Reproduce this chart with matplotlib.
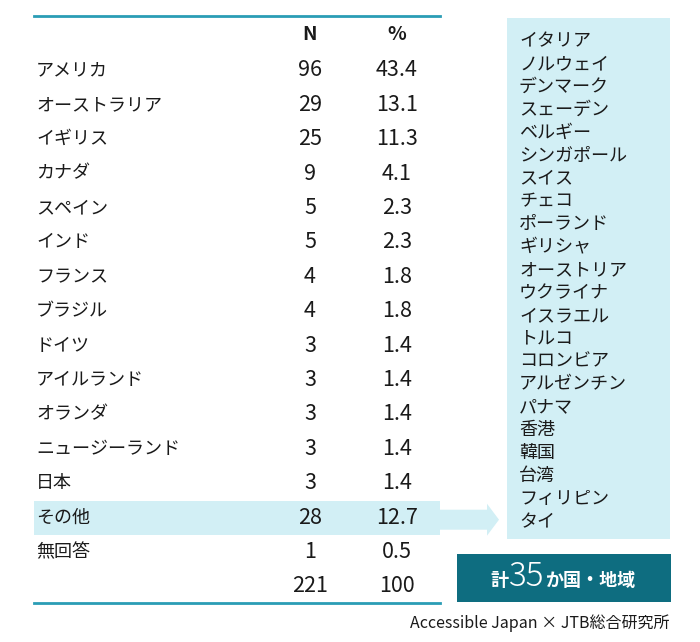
"""
Table: visitor countries (N, %) with the list of other countries on the right.
"""
import matplotlib
matplotlib.use("Agg")
import matplotlib.pyplot as plt
from matplotlib.patches import Rectangle, Polygon

plt.rcParams["font.family"] = ["Noto Sans CJK JP", "DejaVu Sans"]

countries = ["アメリカ", "オーストラリア", "イギリス", "カナダ", "スペイン", "インド",
             "フランス", "ブラジル", "ドイツ", "アイルランド", "オランダ",
             "ニュージーランド", "日本", "その他", "無回答", ""]
counts = ["96", "29", "25", "9", "5", "5", "4", "4", "3", "3", "3", "3", "3",
          "28", "1", "221"]
percents = ["43.4", "13.1", "11.3", "4.1", "2.3", "2.3", "1.8", "1.8", "1.4",
            "1.4", "1.4", "1.4", "1.4", "12.7", "0.5", "100"]
others = ["イタリア", "ノルウェイ", "デンマーク", "スェーデン", "ベルギー",
          "シンガポール", "スイス", "チェコ", "ポーランド", "ギリシャ",
          "オーストリア", "ウクライナ", "イスラエル", "トルコ", "コロンビア",
          "アルゼンチン", "パナマ", "香港", "韓国", "台湾", "フィリピン", "タイ"]
headers = ["N", "%"]
total_label = ["計", "35", "か国・地域"]
credit = "Accessible Japan × JTB総合研究所"

TEAL_LINE = "#2a9db5"
LIGHT = "#d2eff5"
DARK = "#0e6d80"
TXT = "#1a1a1a"


def main():
    fig = plt.figure(figsize=(7.0, 6.42), dpi=100)
    ax = fig.add_axes([0, 0, 1, 1])
    ax.set_xlim(0, 700)
    ax.set_ylim(642, 0)
    ax.axis("off")

    # table lines
    ax.plot([34, 440], [15.5, 15.5], color=TEAL_LINE, lw=2)
    ax.plot([34, 440], [603, 603], color=TEAL_LINE, lw=2)

    # header
    for hx, h in zip([310, 397], headers):
        ax.text(hx, 35, h, ha="center", va="center", fontsize=14,
                fontweight="bold", color=TXT)

    # highlighted row + arrow
    row_y0, row_h = 70.5, 34.4
    hi = countries.index("その他")
    yc = row_y0 + hi * row_h
    ax.add_patch(Rectangle((34, yc - 17), 406, 34, color=LIGHT, lw=0))
    ax.add_patch(Polygon([(440, yc - 8), (487, yc - 8), (487, yc - 14),
                          (499, yc + 2), (487, yc + 18), (487, yc + 12),
                          (440, yc + 12)], closed=True, color=LIGHT, lw=0))

    for i, (c, n, p) in enumerate(zip(countries, counts, percents)):
        y = row_y0 + i * row_h
        ax.text(36, y, c, ha="left", va="center", fontsize=13, color=TXT)
        ax.text(310, y, n, ha="center", va="center", fontsize=15.5, color=TXT)
        ax.text(397, y, p, ha="center", va="center", fontsize=15.5, color=TXT)

    # right list box
    ax.add_patch(Rectangle((507, 18), 163, 521, color=LIGHT, lw=0))
    for i, name in enumerate(others):
        ax.text(519, 41 + i * 22.9, name, ha="left", va="center",
                fontsize=13, color=TXT)

    # total box
    ax.add_patch(Rectangle((457, 554), 214, 48, color=DARK, lw=0))
    t1 = ax.text(490, 580, total_label[0], ha="left", va="center",
                 fontsize=13, color="white", fontweight="bold")
    fig.canvas.draw()
    r = fig.canvas.get_renderer()
    inv = ax.transData.inverted()
    x = inv.transform(t1.get_window_extent(r).corners()[-1])[0] + 1
    t2 = ax.text(x, 577, total_label[1], ha="left", va="center",
                 fontsize=24, color="white", fontweight="light")
    x = inv.transform(t2.get_window_extent(r).corners()[-1])[0] + 1
    ax.text(x, 580, total_label[2], ha="left", va="center",
            fontsize=13, color="white", fontweight="bold")

    ax.text(670, 623, credit, ha="right", va="center", fontsize=11.5, color=TXT)

    fig.savefig("out.png", dpi=100)


if __name__ == "__main__":
    main()
